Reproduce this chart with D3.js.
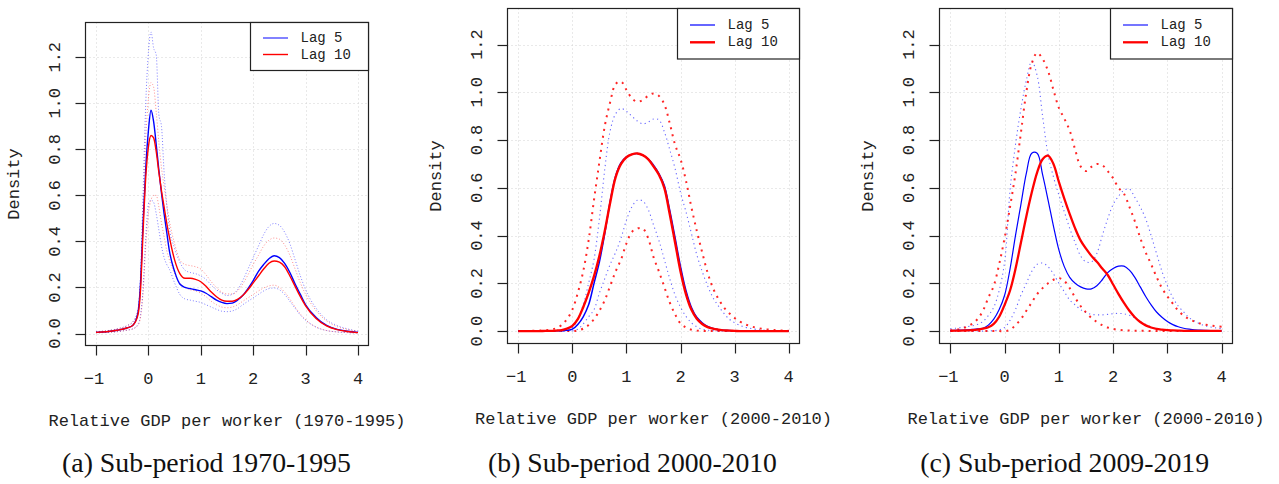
<!DOCTYPE html>
<html><head><meta charset="utf-8">
<script src="https://cdn.jsdelivr.net/npm/d3@7"></script>
<style>html,body{margin:0;padding:0;background:#fff;} svg{display:block;}</style>
</head><body>
<svg id="chart" width="1279" height="484"></svg>
<script>
// ---------- data ----------
const xTicks = [-1, 0, 1, 2, 3, 4];
const yTicks = [0, 0.2, 0.4, 0.6, 0.8, 1.0, 1.2];
const legendLabels = ["Lag 5", "Lag 10"];
const yTitle = "Density";
const xTitles = ["Relative GDP per worker (1970-1995)", "Relative GDP per worker (2000-2010)", "Relative GDP per worker (2000-2010)"];
const captions = ["(a) Sub-period 1970-1995", "(b) Sub-period 2000-2010", "(c) Sub-period 2009-2019"];

// Panel (a): evaluation grid
const p1X = [-1,-0.8,-0.6,-0.4,-0.3,-0.2,-0.15,-0.1,-0.05,0,0.05,0.1,0.15,0.2,0.25,0.3,0.35,0.4,
  0.5,0.6,0.7,0.8,0.9,1.0,1.1,1.2,1.3,1.4,1.5,1.6,1.7,1.8,1.9,2.0,2.1,2.2,2.3,2.4,2.5,2.6,2.7,2.8,2.9,3.0,
  3.2,3.4,3.6,3.8,4.0];
const p1Blue = [0.005,0.008,0.014,0.025,0.035,0.09,0.22,0.49,0.72,0.88,0.97,0.92,0.82,0.71,0.61,0.52,0.44,0.36,
  0.27,0.215,0.2,0.195,0.19,0.185,0.175,0.16,0.145,0.135,0.13,0.132,0.145,0.165,0.195,0.23,0.27,0.30,0.325,0.338,0.33,0.305,0.265,0.215,0.17,0.125,
  0.07,0.035,0.018,0.01,0.005];
const p1Red = [0.005,0.008,0.014,0.025,0.035,0.08,0.19,0.45,0.68,0.81,0.86,0.85,0.79,0.70,0.62,0.55,0.48,0.42,
  0.32,0.26,0.24,0.24,0.235,0.225,0.205,0.18,0.16,0.145,0.14,0.14,0.148,0.165,0.19,0.22,0.25,0.28,0.305,0.315,0.31,0.29,0.25,0.205,0.16,0.12,
  0.065,0.033,0.017,0.009,0.004];
const p1BlueUp = [0.008,0.012,0.02,0.035,0.05,0.1,0.25,0.62,1.0,1.22,1.31,1.24,1.21,0.95,0.9,0.7,0.56,0.46,
  0.37,0.31,0.275,0.265,0.26,0.25,0.235,0.21,0.19,0.175,0.165,0.17,0.19,0.23,0.28,0.33,0.38,0.43,0.465,0.478,0.47,0.44,0.39,0.32,0.25,0.19,
  0.11,0.06,0.035,0.02,0.01];
const p1BlueLo = [0.003,0.005,0.008,0.015,0.02,0.04,0.08,0.2,0.42,0.56,0.58,0.57,0.52,0.45,0.38,0.33,0.3,0.28,
  0.22,0.17,0.15,0.145,0.14,0.135,0.125,0.115,0.105,0.097,0.095,0.098,0.108,0.125,0.14,0.155,0.17,0.185,0.195,0.198,0.19,0.17,0.14,0.11,0.08,0.058,
  0.028,0.013,0.007,0.004,0.002];
const p1RedUp = [0.008,0.012,0.02,0.035,0.05,0.1,0.23,0.55,0.85,1.02,1.09,1.07,0.96,0.83,0.72,0.64,0.56,0.49,
  0.39,0.32,0.3,0.295,0.29,0.28,0.255,0.225,0.2,0.18,0.172,0.172,0.185,0.215,0.255,0.3,0.34,0.38,0.405,0.415,0.41,0.385,0.34,0.28,0.22,0.17,
  0.1,0.055,0.03,0.018,0.01];
const p1RedLo = [0.003,0.005,0.008,0.015,0.02,0.035,0.07,0.18,0.38,0.52,0.58,0.6,0.6,0.55,0.48,0.42,0.36,0.32,
  0.26,0.22,0.2,0.19,0.185,0.175,0.16,0.14,0.125,0.115,0.112,0.115,0.125,0.14,0.155,0.17,0.185,0.198,0.207,0.21,0.2,0.18,0.15,0.115,0.085,0.06,
  0.028,0.013,0.007,0.004,0.002];

// Panels (b) and (c): evaluation grid
const gridX = [-1,-0.9,-0.8,-0.7,-0.6,-0.5,-0.4,-0.3,-0.2,-0.1,0,0.1,0.2,0.3,0.4,0.5,0.6,0.7,0.8,0.9,
  1.0,1.1,1.2,1.3,1.4,1.5,1.6,1.7,1.8,1.9,2.0,2.1,2.2,2.3,2.4,2.5,2.6,2.7,2.8,2.9,
  3.0,3.1,3.2,3.3,3.4,3.5,3.6,3.7,3.8,3.9,4.0];

const p2Blue = [0,0,0,0,0,0,0,0.001,0.001,0.003,0.008,0.028,0.06,0.11,0.2,0.29,0.41,0.545,0.65,0.705,
  0.73,0.74,0.744,0.737,0.722,0.695,0.66,0.61,0.506,0.39,0.27,0.17,0.1,0.058,0.035,0.02,0.011,0.006,0.003,0.002,
  0.001,0,0,0,0,0,0,0,0,0,0];
const p2Red = [0,0,0,0,0,0.001,0.001,0.002,0.004,0.01,0.022,0.05,0.1,0.16,0.23,0.315,0.42,0.54,0.645,0.70,
  0.728,0.74,0.744,0.737,0.72,0.69,0.655,0.6,0.49,0.37,0.25,0.155,0.09,0.052,0.03,0.017,0.01,0.006,0.003,0.002,
  0.001,0,0,0,0,0,0,0,0,0,0];
const p2BlueUp = [0,0,0,0,0,0,0.001,0.002,0.004,0.008,0.015,0.05,0.11,0.2,0.3,0.47,0.68,0.84,0.91,0.932,
  0.92,0.9,0.88,0.868,0.875,0.888,0.885,0.835,0.76,0.68,0.58,0.5,0.41,0.32,0.25,0.19,0.14,0.105,0.075,0.05,
  0.035,0.024,0.016,0.011,0.007,0.005,0.003,0.002,0.001,0,0];
const p2BlueLo = [0,0,0,0,0,0,0,0,0,0,0.001,0.008,0.03,0.06,0.09,0.16,0.22,0.28,0.33,0.39,
  0.465,0.52,0.548,0.545,0.51,0.445,0.38,0.3,0.22,0.15,0.1,0.062,0.035,0.018,0.008,0.004,0.002,0,0,0,
  0,0,0,0,0,0,0,0,0,0,0];
const p2RedUp = [0,0,0.001,0.001,0.002,0.003,0.006,0.012,0.025,0.05,0.09,0.16,0.25,0.38,0.55,0.71,0.86,0.96,1.035,1.045,
  1.01,0.975,0.96,0.968,0.985,0.995,0.985,0.95,0.87,0.78,0.72,0.63,0.52,0.42,0.33,0.245,0.18,0.135,0.1,0.075,
  0.055,0.04,0.028,0.02,0.014,0.01,0.007,0.005,0.003,0.002,0.001];
const p2RedLo = [0,0,0,0,0,0,0,0,0,0,0,0.003,0.01,0.025,0.05,0.085,0.13,0.19,0.25,0.3,
  0.367,0.415,0.43,0.43,0.39,0.31,0.25,0.185,0.12,0.07,0.032,0.015,0.006,0.002,0,0,0,0,0,0,
  0,0,0,0,0,0,0,0,0,0,0];

const p3Blue = [0.002,0.003,0.004,0.005,0.007,0.009,0.012,0.025,0.05,0.09,0.15,0.26,0.4,0.53,0.66,0.745,0.745,0.655,0.55,0.44,
  0.34,0.27,0.225,0.2,0.185,0.177,0.177,0.19,0.215,0.245,0.262,0.272,0.272,0.255,0.225,0.185,0.145,0.11,0.08,0.058,
  0.04,0.027,0.018,0.012,0.008,0.005,0.004,0.003,0.002,0.001,0.001];
const p3Red = [0.001,0.002,0.002,0.003,0.004,0.006,0.01,0.016,0.03,0.06,0.11,0.17,0.26,0.37,0.48,0.58,0.665,0.72,0.735,0.7,
  0.625,0.555,0.49,0.43,0.38,0.345,0.315,0.29,0.262,0.235,0.195,0.155,0.118,0.085,0.058,0.038,0.024,0.015,0.009,0.006,
  0.004,0.003,0.002,0.001,0.001,0.001,0.001,0.001,0.001,0.001,0.001];
const p3BlueUp = [0.01,0.012,0.015,0.018,0.022,0.028,0.04,0.065,0.1,0.17,0.29,0.59,0.78,0.93,1.05,1.13,1.07,0.9,0.74,0.646,
  0.57,0.5,0.43,0.37,0.315,0.29,0.29,0.325,0.4,0.47,0.53,0.565,0.59,0.595,0.56,0.52,0.47,0.4,0.325,0.25,
  0.19,0.14,0.105,0.08,0.056,0.042,0.03,0.022,0.017,0.013,0.01];
const p3BlueLo = [0,0,0,0,0,0,0,0.001,0.002,0.005,0.015,0.045,0.09,0.15,0.2,0.25,0.28,0.285,0.27,0.24,
  0.2,0.165,0.13,0.11,0.09,0.078,0.07,0.068,0.068,0.07,0.073,0.074,0.072,0.066,0.055,0.04,0.028,0.018,0.011,0.007,
  0.004,0.002,0.001,0,0,0,0,0,0,0,0];
const p3RedUp = [0.003,0.006,0.01,0.018,0.03,0.05,0.085,0.14,0.19,0.28,0.39,0.52,0.66,0.83,1.0,1.12,1.165,1.14,1.09,1.01,
  0.935,0.89,0.84,0.76,0.69,0.67,0.688,0.7,0.695,0.67,0.64,0.6,0.575,0.52,0.46,0.39,0.33,0.28,0.227,0.18,
  0.145,0.115,0.085,0.065,0.05,0.04,0.032,0.027,0.023,0.02,0.018];
const p3RedLo = [0,0,0,0,0,0,0,0,0,0,0,0.005,0.025,0.05,0.085,0.12,0.155,0.18,0.2,0.215,
  0.222,0.21,0.18,0.14,0.105,0.078,0.055,0.038,0.025,0.015,0.009,0.005,0.003,0.002,0.001,0.001,0.001,0,0,0,
  0,0,0,0,0,0,0,0,0,0,0];

// ---------- layout / styles ----------
const BLUE = "#0000ff", RED = "#ff0000";
const panels = [
  { x: p1X, blue: p1Blue, red: p1Red, blueUp: p1BlueUp, blueLo: p1BlueLo, redUp: p1RedUp, redLo: p1RedLo,
    box: { l: 85.5, r: 368.5, t: 22.5, b: 345.5 }, capX: 206.5, xTitle: xTitles[0], caption: captions[0], curve: d3.curveMonotoneX,
    st: { blueW: 1.4, redW: 1.4, bDot: { w: 1, d: "1,2", o: 0.5 }, rDot: { w: 1, d: "1,2", o: 0.45 }, legBlueOp: 0.7 } },
  { x: gridX, blue: p2Blue, red: p2Red, blueUp: p2BlueUp, blueLo: p2BlueLo, redUp: p2RedUp, redLo: p2RedLo,
    box: { l: 507.5, r: 799.5, t: 8.5, b: 343.5 }, capX: 632.5, xTitle: xTitles[1], caption: captions[1], curve: d3.curveCatmullRom,
    st: { blueW: 1.5, redW: 2.4, bDot: { w: 1.1, d: "1.2,3.3", o: 0.6 }, rDot: { w: 2, d: "2,5", o: 0.85 }, legBlueOp: 0.8 } },
  { x: gridX, blue: p3Blue, red: p3Red, blueUp: p3BlueUp, blueLo: p3BlueLo, redUp: p3RedUp, redLo: p3RedLo,
    box: { l: 939.5, r: 1232.5, t: 8.5, b: 343.5 }, capX: 1064.7, xTitle: xTitles[2], caption: captions[2], curve: d3.curveCatmullRom,
    st: { blueW: 1.2, redW: 2.3, bDot: { w: 1.1, d: "1.2,3.3", o: 0.6 }, rDot: { w: 2, d: "2,5", o: 0.85 }, legBlueOp: 0.9 } }
];

const svg = d3.select("#chart");
const MONO = "'Liberation Mono', 'DejaVu Sans Mono', monospace";
const fmt = d3.format(".1f");
const minus = s => s.replace("-", "\u2212");

panels.forEach((p, i) => {
  const { l, r, t, b } = p.box;
  const x = d3.scaleLinear().domain([-1.2, 4.2]).range([l, r]);
  const y = d3.scaleLinear().domain([-0.052, 1.351]).range([b, t]);
  const g = svg.append("g");

  const cid = "clip" + i;
  svg.append("defs").append("clipPath").attr("id", cid)
    .append("rect").attr("x", l).attr("y", t).attr("width", r - l).attr("height", b - t);

  // grid
  const grid = g.append("g").attr("stroke", "#d3d3d3").attr("stroke-width", 1).attr("stroke-dasharray", "1,3");
  grid.selectAll("line.v").data(xTicks).join("line").attr("class", "v")
    .attr("x1", d => Math.round(x(d)) + 0.5).attr("x2", d => Math.round(x(d)) + 0.5).attr("y1", t).attr("y2", b);
  grid.selectAll("line.h").data(yTicks).join("line").attr("class", "h")
    .attr("y1", d => Math.round(y(d)) + 0.5).attr("y2", d => Math.round(y(d)) + 0.5).attr("x1", l).attr("x2", r);

  // curves
  const plot = g.append("g").attr("clip-path", `url(#${cid})`);
  const line = vals => d3.line().curve(p.curve).x((d, k) => x(p.x[k])).y(d => y(d))(vals);
  const drawDot = (vals, col, s) => plot.append("path").attr("d", line(vals)).attr("fill", "none")
    .attr("stroke", col).attr("stroke-opacity", s.o).attr("stroke-width", s.w).attr("stroke-dasharray", s.d);
  drawDot(p.blueUp, BLUE, p.st.bDot);
  drawDot(p.blueLo, BLUE, p.st.bDot);
  drawDot(p.redUp, RED, p.st.rDot);
  drawDot(p.redLo, RED, p.st.rDot);
  plot.append("path").attr("d", line(p.blue)).attr("fill", "none").attr("stroke", BLUE).attr("stroke-width", p.st.blueW);
  plot.append("path").attr("d", line(p.red)).attr("fill", "none").attr("stroke", RED).attr("stroke-width", p.st.redW);

  // box
  g.append("rect").attr("x", l).attr("y", t).attr("width", r - l).attr("height", b - t)
    .attr("fill", "none").attr("stroke", "#222").attr("stroke-width", 1.2);

  // x axis
  const xa = g.append("g");
  xa.selectAll("line").data(xTicks).join("line")
    .attr("x1", d => Math.round(x(d)) + 0.5).attr("x2", d => Math.round(x(d)) + 0.5)
    .attr("y1", b).attr("y2", b + 10).attr("stroke", "#222").attr("stroke-width", 1.2);
  xa.selectAll("text").data(xTicks).join("text")
    .attr("x", d => x(d) - (d < 0 ? 2 : 0)).attr("y", b + 38)
    .attr("text-anchor", "middle").attr("font-family", MONO).attr("font-size", 17).attr("fill", "#222")
    .text(d => minus(String(d)));
  g.append("text").attr("x", (l + r) / 2).attr("y", b + 80).attr("text-anchor", "middle")
    .attr("font-family", MONO).attr("font-size", 17).attr("fill", "#222").text(p.xTitle);

  // y axis
  const ya = g.append("g");
  ya.selectAll("line").data(yTicks).join("line")
    .attr("y1", d => Math.round(y(d)) + 0.5).attr("y2", d => Math.round(y(d)) + 0.5)
    .attr("x1", l - 10).attr("x2", l).attr("stroke", "#222").attr("stroke-width", 1.2);
  ya.selectAll("text").data(yTicks).join("text")
    .attr("transform", d => `translate(${l - 30.5},${y(d)}) rotate(-90)`)
    .attr("text-anchor", "middle").attr("dominant-baseline", "central")
    .attr("font-family", MONO).attr("font-size", 17).attr("fill", "#222").text(d => fmt(d));
  g.append("text").attr("transform", `translate(${l - 71},${(t + b) / 2}) rotate(-90)`)
    .attr("text-anchor", "middle").attr("dominant-baseline", "central")
    .attr("font-family", MONO).attr("font-size", 17).attr("fill", "#222").text(yTitle);

  // legend
  const lw = i === 0 ? 118 : 122, lh = i === 0 ? 48 : 50.5;
  const lg = g.append("g").attr("transform", `translate(${r - lw},${t})`);
  lg.append("rect").attr("width", lw).attr("height", lh).attr("fill", "#fff")
    .attr("stroke", "#222").attr("stroke-width", 1.2);
  const rows = [{ c: BLUE, w: p.st.blueW, o: p.st.legBlueOp }, { c: RED, w: p.st.redW, o: 1 }];
  rows.forEach((row, k) => {
    const yy = (i === 0 ? 15.5 : 16.5) + k * (i === 0 ? 16.5 : 17.3);
    lg.append("line").attr("x1", 12.5).attr("x2", 37.5).attr("y1", yy).attr("y2", yy)
      .attr("stroke", row.c).attr("stroke-width", row.w).attr("stroke-opacity", row.o);
    lg.append("text").attr("x", 50).attr("y", yy).attr("dominant-baseline", "central")
      .attr("font-family", MONO).attr("font-size", 14).attr("fill", "#222").text(legendLabels[k]);
  });

  // caption
  const cap = svg.append("text").attr("x", p.capX).attr("y", 472).attr("text-anchor", "middle")
    .attr("font-family", "'Liberation Serif', 'DejaVu Serif', serif").attr("font-size", 24).attr("fill", "#111")
    .text(p.caption);
  const w = cap.node().getComputedTextLength();
  if (w > 0) cap.attr("font-size", (24 * 289 / w).toFixed(2));
});
</script>
</body></html>
